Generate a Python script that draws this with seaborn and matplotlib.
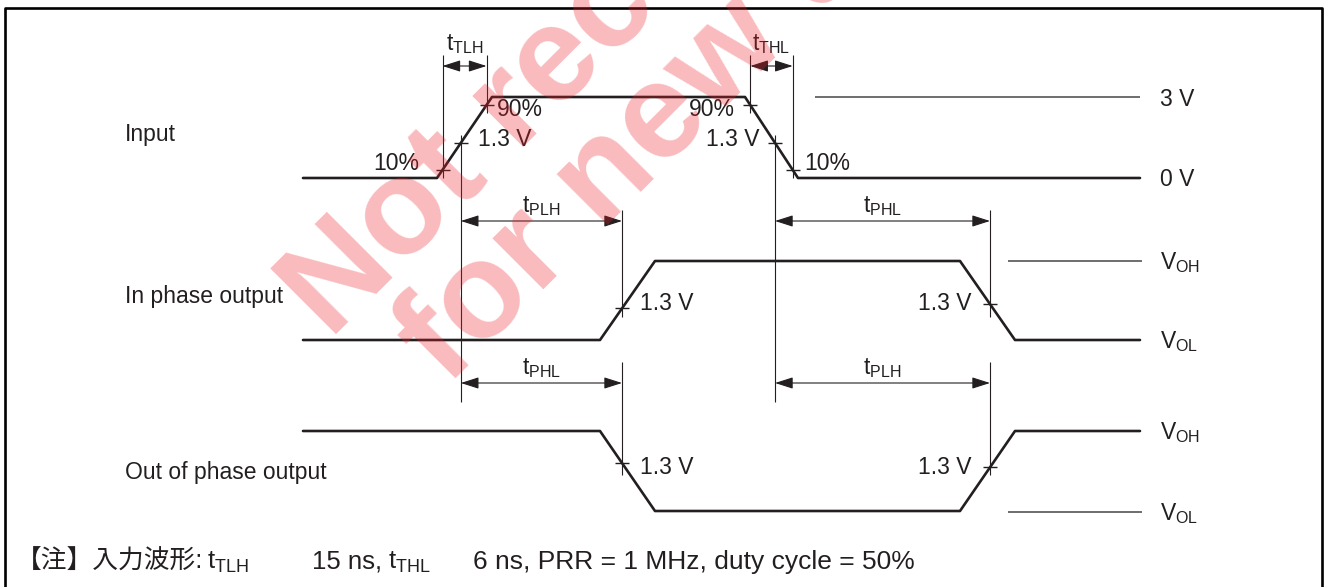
import numpy as np
import pandas as pd
import matplotlib
matplotlib.use('Agg')
import matplotlib.pyplot as plt
import seaborn as sns

# waveform break points (canvas units, y grows downward)
input_x = [303, 437, 492, 745, 798, 1140]
input_y = [178, 178, 97, 97, 178, 178]
inphase_x = [303, 600, 655, 960, 1015, 1140]
inphase_y = [340, 340, 261, 261, 340, 340]
outphase_x = [303, 600, 655, 960, 1015, 1140]
outphase_y = [431, 431, 511, 511, 431, 431]

signal_names = ['Input', 'In phase output', 'Out of phase output']
signal_label_y = [134, 297, 473]

# thresholds on the input edges (fraction of 3 V)
input_levels = ['10%', '90%', '1.3 V']
input_fracs = [0.1, 0.9, 1.3 / 3]

level_labels = ['3 V', '0 V', '$\\mathrm{V}_{\\mathrm{OH}}$', '$\\mathrm{V}_{\\mathrm{OL}}$',
                '$\\mathrm{V}_{\\mathrm{OH}}$', '$\\mathrm{V}_{\\mathrm{OL}}$']
level_y = [97, 178, 261, 340, 431, 512]

INK = '#231f20'
FS = 16.5

sns.set_theme(style='white')
plt.rcParams['font.family'] = ['Liberation Sans', 'Noto Sans CJK JP', 'DejaVu Sans']
plt.rcParams['mathtext.fontset'] = 'custom'
plt.rcParams['mathtext.rm'] = 'Liberation Sans'
plt.rcParams['mathtext.it'] = 'Liberation Sans'
plt.rcParams['mathtext.bf'] = 'Liberation Sans:bold'

fig = plt.figure(figsize=(13.29, 5.87), dpi=100)
ax = fig.add_axes([0, 0, 1, 1])
ax.set_xlim(0, 1329)
ax.set_ylim(587, 0)
ax.axis('off')

# waveforms
frames = []
for name, xs, ys in zip(signal_names, [input_x, inphase_x, outphase_x],
                        [input_y, inphase_y, outphase_y]):
    frames.append(pd.DataFrame({'t': xs, 'v': ys, 'signal': name}))
wave = pd.concat(frames, ignore_index=True)
sns.lineplot(data=wave, x='t', y='v', units='signal', estimator=None, sort=False,
             color=INK, lw=1.9, ax=ax, legend=False)
ax.set_xlabel('')
ax.set_ylabel('')

# outer frame
ax.plot([5, 5, 1322, 1322], [600, 8, 8, 600], color='black', lw=1.9, clip_on=False)

# reference levels
ax.hlines(97, 815, 1140, color='#555555', lw=1.2)
ax.hlines([261, 512], 1008, 1142, color='#555555', lw=1.2)
for lab, y in zip(level_labels, level_y):
    ax.text(1160, y + 2, lab, fontsize=FS, color=INK, va='center', ha='left')

for name, y in zip(signal_names, signal_label_y):
    ax.text(125, y, name, fontsize=FS, color=INK, va='center', ha='left')


def edge_x(x0, x1, frac):
    return x0 + frac * (x1 - x0)


# input edge threshold points
rise = [edge_x(input_x[1], input_x[2], f) for f in input_fracs]
fall = [edge_x(input_x[3], input_x[4], 1 - f) for f in input_fracs]
rise_y = [np.interp(x, input_x, input_y) for x in rise]
fall_y = [np.interp(x, input_x, input_y) for x in fall]

tick = 7
for x, y in zip(rise + fall, rise_y + fall_y):
    ax.hlines(y, x - tick, x + tick, color=INK, lw=1.0)

# output 1.3 V crossings
out_cross = [622, 990]
in_cross_y = [np.interp(x, inphase_x, inphase_y) for x in out_cross]
out_cross_y = [np.interp(x, outphase_x, outphase_y) for x in out_cross]
for x, y1, y2 in zip(out_cross, in_cross_y, out_cross_y):
    ax.hlines([y1, y2], x - tick, x + tick, color=INK, lw=1.0)
    ax.vlines(x, 210, 317, color=INK, lw=0.8)
    ax.vlines(x, 362, 475, color=INK, lw=0.8)

# extension lines
ax.vlines([rise[0], fall[0]], 55, 178, color=INK, lw=0.8)
ax.vlines([rise[1], fall[1]], 55, 113, color=INK, lw=0.8)
ax.vlines([rise[2], fall[2]], 135, 402, color=INK, lw=0.8)


def dim(x0, x1, y, label, ly):
    ax.annotate('', xy=(x1, y), xytext=(x0, y),
                arrowprops=dict(arrowstyle='<|-|>,head_length=1.0,head_width=0.32',
                                color=INK, lw=0.8, mutation_scale=11,
                                shrinkA=0, shrinkB=0))
    ax.text((x0 + x1) / 2, ly, label, fontsize=FS, color=INK, ha='center', va='center')


dim(rise[0], rise[1], 66, '$\\mathrm{t}_{\\mathrm{TLH}}$', 44)
dim(fall[1], fall[0], 66, '$\\mathrm{t}_{\\mathrm{THL}}$', 44)
dim(rise[2], out_cross[0], 221, '$\\mathrm{t}_{\\mathrm{PLH}}$', 206)
dim(fall[2], out_cross[1], 221, '$\\mathrm{t}_{\\mathrm{PHL}}$', 206)
dim(rise[2], out_cross[0], 383, '$\\mathrm{t}_{\\mathrm{PHL}}$', 368)
dim(fall[2], out_cross[1], 383, '$\\mathrm{t}_{\\mathrm{PLH}}$', 368)

# threshold labels on input
ax.text(419, 164, '10%', fontsize=FS, color=INK, ha='right', va='center')
ax.text(497, 110, '90%', fontsize=FS, color=INK, ha='left', va='center')
ax.text(478, 140, '1.3 V', fontsize=FS, color=INK, ha='left', va='center')
ax.text(735, 110, '90%', fontsize=FS, color=INK, ha='right', va='center')
ax.text(760, 140, '1.3 V', fontsize=FS, color=INK, ha='right', va='center')
ax.text(804, 164, '10%', fontsize=FS, color=INK, ha='left', va='center')
for y in [303, 467]:
    ax.text(640, y, '1.3 V', fontsize=FS, color=INK, ha='left', va='center')
    ax.text(972, y, '1.3 V', fontsize=FS, color=INK, ha='right', va='center')

# footnote
note_y = 562
NFS = 18.5
ax.text(16, note_y, '【注】入力波形:', fontsize=NFS, color=INK, ha='left', va='center')
ax.text(207, note_y, '$\\mathrm{t}_{\\mathrm{TLH}}$', fontsize=NFS, color=INK, ha='left', va='center')
ax.text(312, note_y, '15 ns,', fontsize=NFS, color=INK, ha='left', va='center')
ax.text(388, note_y, '$\\mathrm{t}_{\\mathrm{THL}}$', fontsize=NFS, color=INK, ha='left', va='center')
ax.text(473, note_y, '6 ns, PRR = 1 MHz, duty cycle = 50%', fontsize=19, color=INK,
        ha='left', va='center')

# watermark
for (wx, wy), line in zip([(330, 340), (446, 386)], ['Not recommended', 'for new design']):
    ax.text(wx, wy, line, fontsize=98, fontweight='bold', color='#ed1c24', alpha=0.3,
            rotation=45, rotation_mode='anchor', ha='left', va='baseline', zorder=10)

fig.savefig('out.png', dpi=100, facecolor='white')
